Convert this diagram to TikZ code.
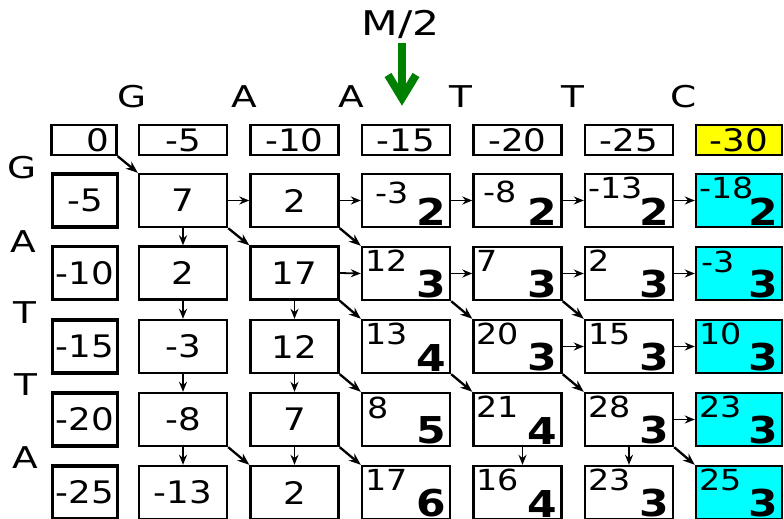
\documentclass[tikz,border=0pt]{standalone}
\usepackage{fontspec}
\setmainfont{DejaVu Sans}[FakeStretch=1.15]
\newfontfamily\widefont{DejaVu Sans}[FakeStretch=1.25]
\usetikzlibrary{arrows.meta}
\definecolor{aqua}{RGB}{0,255,255}
\definecolor{yel}{RGB}{255,255,0}
\definecolor{grn}{RGB}{0,128,0}
\begin{document}
\begin{tikzpicture}[x=1pt,y=-1pt,
  cell/.style={draw=black, line width=2.4pt, minimum width=88pt, minimum height=53pt, inner sep=0pt, font=\fontsize{31}{31}\selectfont},
  hdr/.style={cell, minimum height=30pt},
  lcell/.style={cell, line width=3.2pt, minimum width=65pt},
  sm/.style={anchor=north west, inner sep=0pt, font=\fontsize{29}{29}\selectfont},
  bg/.style={anchor=south east, inner sep=0pt, font=\fontsize{37}{37}\selectfont\bfseries},
  lbl/.style={anchor=base, inner sep=0pt, font=\widefont\fontsize{30}{30}\selectfont},
  arr/.style={-{Stealth[length=10pt,width=8pt]}, line width=1.8pt},
  darr/.style={-{Stealth[length=12pt,width=9pt]}, line width=2.3pt},
  mark2/.style={draw=grn, line width=8pt},
]
\useasboundingbox (0,0) rectangle (784,519);
\clip (0,0) rectangle (784,519);

% M/2 and green arrow
\node[lbl, font=\widefont\fontsize{34}{34}\selectfont] (m2) at (401,36) {M/2};
\coordinate (gtop) at (402,43);
\coordinate (gtip) at (402,98);
\coordinate (gl) at (388,75);
\coordinate (gr) at (416,75);
\draw[mark2] (gtop) -- (gtip);
\draw[mark2, line join=miter] (gl) -- (gtip) -- (gr);

% top sequence
\node[lbl] (tG) at (132,107) {G};
\node[lbl] (tA1) at (244,107) {A};
\node[lbl] (tA2) at (351,107) {A};
\node[lbl] (tT1) at (461,107) {T};
\node[lbl] (tT2) at (573,107) {T};
\node[lbl] (tC) at (684,107) {C};

% left sequence
\node[lbl] (lG) at (22,178) {G};
\node[lbl] (lA1) at (23,252) {A};
\node[lbl] (lT1) at (25,323) {T};
\node[lbl] (lT2) at (26,395) {T};
\node[lbl] (lA2) at (25,468) {A};

% header row
\node[hdr, minimum width=65pt] (n00) at (84,140) {};
\node[inner sep=0pt, font=\fontsize{31}{31}\selectfont] (t00) at (98,140) {0};
\node[hdr] (n01) at (183,140) {-5};
\node[hdr] (n02) at (294.5,140) {-10};
\node[hdr] (n03) at (406,140) {-15};
\node[hdr] (n04) at (517.5,140) {-20};
\node[hdr] (n05) at (629,140) {-25};
\node[hdr, fill=yel, minimum width=86pt] (n06) at (739,140) {-30};

% left column
\node[lcell] (n10) at (85,200.5) {-5};
\node[lcell] (n20) at (85,273) {-10};
\node[lcell] (n30) at (85,346.5) {-15};
\node[lcell] (n40) at (85,419.5) {-20};
\node[lcell] (n50) at (85,492.5) {-25};

% columns 1 and 2
\node[cell] (n11) at (183,200.5) {7};
\node[cell] (n21) at (183,273) {2};
\node[cell] (n31) at (183,346.5) {-3};
\node[cell] (n41) at (183,419.5) {-8};
\node[cell] (n51) at (183,492.5) {-13};
\node[cell] (n12) at (294.5,200.5) {2};
\node[cell] (n22) at (294.5,273) {17};
\node[cell] (n32) at (294.5,346.5) {12};
\node[cell] (n42) at (294.5,419.5) {7};
\node[cell] (n52) at (294.5,492.5) {2};

% columns 3 to 6
\foreach \r/\c/\s/\b/\f/\dx/\dy in {
  1/3/-3/2/white/14/9, 1/4/-8/2/white/11/8, 1/5/-13/2/white/4/4, 1/6/-18/2/aqua/4/4,
  2/3/12/3/white/4/4, 2/4/7/3/white/4/4, 2/5/2/3/white/4/4, 2/6/-3/3/aqua/6/5,
  3/3/13/4/white/4/4, 3/4/20/3/white/4/4, 3/5/15/3/white/4/4, 3/6/10/3/aqua/4/4,
  4/3/8/5/white/6/5, 4/4/21/4/white/4/4, 4/5/28/3/white/4/4, 4/6/23/3/aqua/4/4,
  5/3/17/6/white/4/4, 5/4/16/4/white/4/4, 5/5/23/3/white/4/4, 5/6/25/3/aqua/4/4}{
  \pgfmathsetmacro{\cx}{\c==6 ? 739 : 406+(\c-3)*111.5}
  \pgfmathsetmacro{\cy}{200.5+(\r-1)*73}
  \node[cell, fill=\f, minimum width={\c==6 ? 86 : 88}] (n\r\c) at (\cx,\cy) {};
  \node[sm] (s\r\c) at ([shift={(\dx,\dy)}]n\r\c.north west) {\s};
  \node[bg] (b\r\c) at ([shift={(-5,-3)}]n\r\c.south east) {\b};
}

% horizontal arrows
\foreach \a/\b in {11/12, 12/13, 13/14, 14/15, 15/16, 22/23, 23/24, 24/25, 25/26, 34/35, 35/36, 45/46}
  \draw[arr] (n\a.east) -- (n\b.west);
% vertical arrows
\foreach \a/\b in {11/21, 21/31, 31/41, 41/51, 22/32, 32/42, 42/52, 45/55}
  \draw[arr] (n\a.south) -- (n\b.north);
\draw[arr] ([xshift=5pt]n44.south) -- ([xshift=5pt]n54.north);
% diagonal arrows
\foreach \a/\b in {00/11, 11/22, 12/23, 22/33, 32/43, 42/53, 41/52, 23/34, 24/35, 33/44, 34/45, 45/56}
  \draw[darr] (n\a.south east) -- (n\b.north west);
\end{tikzpicture}
\end{document}
